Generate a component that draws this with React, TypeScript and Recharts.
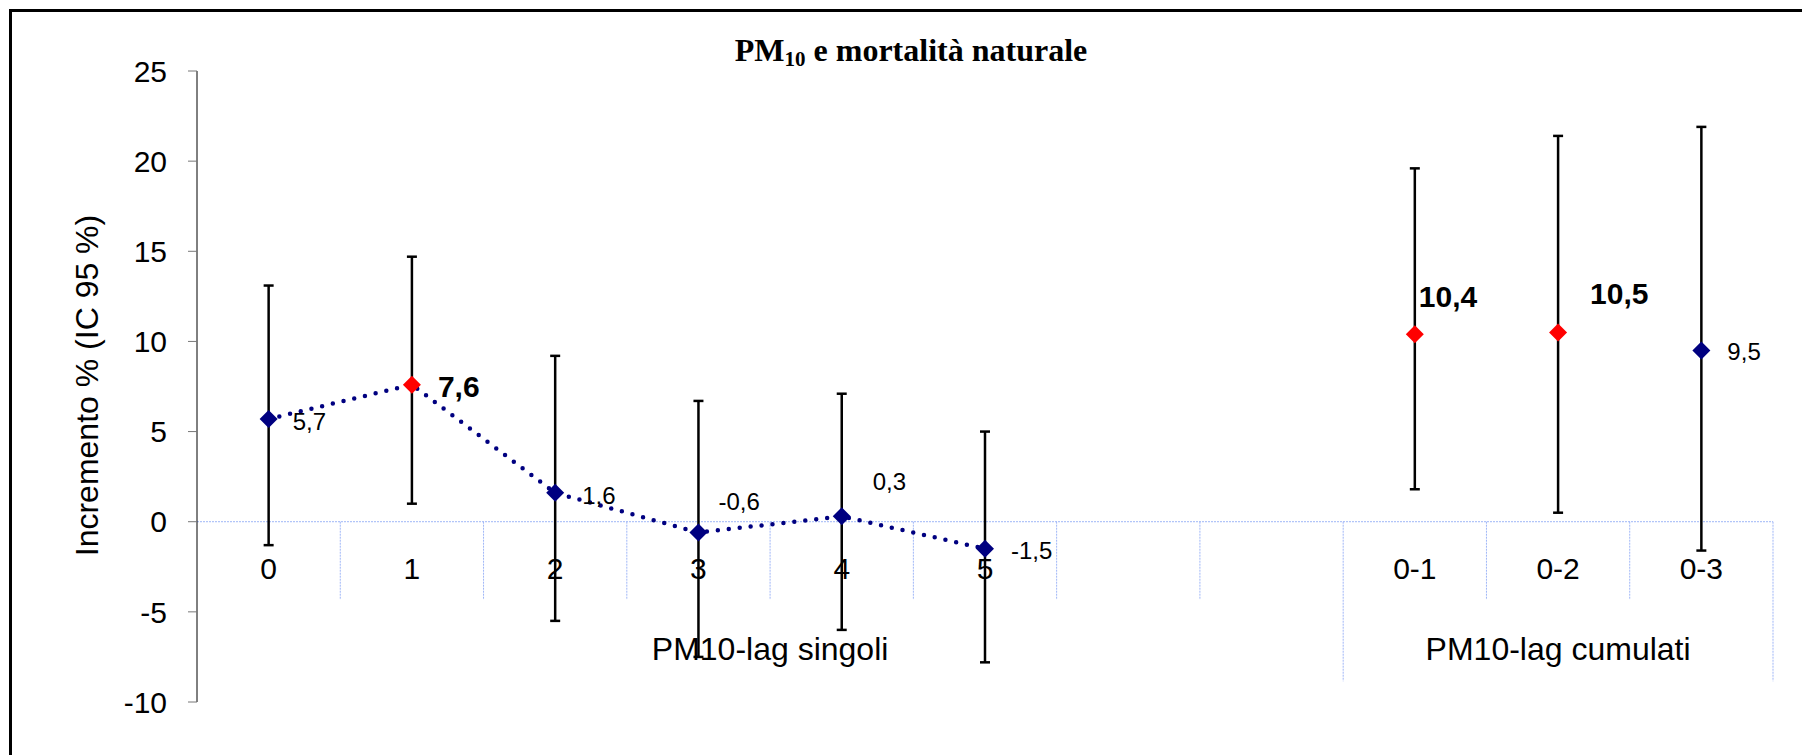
import React from "react";
import { ComposedChart, Line, XAxis, YAxis, ReferenceLine, ErrorBar, LabelList } from "recharts";

const CATEGORIES = ["0", "1", "2", "3", "4", "5", "", "", "0-1", "0-2", "0-3"];

const SINGLE_LAGS = ["0", "1", "2", "3", "4", "5"];
const SINGLE_EST = [5.7, 7.6, 1.6, -0.6, 0.3, -1.5];
const SINGLE_LO = [-1.3, 1.0, -5.5, -7.5, -6.0, -7.8];
const SINGLE_HI = [13.1, 14.7, 9.2, 6.7, 7.1, 5.0];

const CUM_LAGS = ["0-1", "0-2", "0-3"];
const CUM_EST = [10.4, 10.5, 9.5];
const CUM_LO = [1.8, 0.5, -1.6];
const CUM_HI = [19.6, 21.4, 21.9];

const GROUPS = ["PM10-lag singoli", "PM10-lag cumulati"];
const GROUP_FROM = [0, 8];
const GROUP_TO = [8, 11];

const Y_TICKS = [-10, -5, 0, 5, 10, 15, 20, 25];

const NAVY = "#000080";
const RED = "#ff0000";
const GRID = "#9fb6f7";
const FONT = "'Liberation Sans', Arial, sans-serif";

// label placement next to each marker: [dx to text start, dy to text centre]
const LABEL_OFFSET: Record<string, [number, number]> = {
  "0": [24, 2],
  "1": [26, 2],
  "2": [27, 2],
  "3": [20, -31],
  "4": [31, -35],
  "5": [26, 2],
  "0-1": [4, -38],
  "0-2": [32, -39],
  "0-3": [26, 1],
};

const toRows = (lags: string[], est: number[], lo: number[], hi: number[]) =>
  lags.map((lag, i) => ({
    x: CATEGORIES.indexOf(lag) + 0.5,
    lag,
    est: est[i],
    lo: lo[i],
    hi: hi[i],
    err: [est[i] - lo[i], hi[i] - est[i]],
  }));

const singleRows = toRows(SINGLE_LAGS, SINGLE_EST, SINGLE_LO, SINGLE_HI);
const cumRows = toRows(CUM_LAGS, CUM_EST, CUM_LO, CUM_HI);

const catRows = CATEGORIES.map((name, i) => ({ x: i + 0.5, y: 0, name }));
const groupRows = GROUPS.map((name, i) => ({ x: (GROUP_FROM[i] + GROUP_TO[i]) / 2, y: 0, name }));

const groupEdges = new Set([...GROUP_FROM, ...GROUP_TO]);
const dividers = CATEGORIES.map((_, i) => i + 1);

const Diamond = (props: any) => {
  const { cx, cy, payload, index } = props;
  if (cx == null || cy == null) return null;
  const s = 9;
  const fill = payload.lo > 0 ? RED : NAVY;
  return (
    <polygon
      key={`d-${payload.lag}-${index}`}
      points={`${cx},${cy - s} ${cx + s},${cy} ${cx},${cy + s} ${cx - s},${cy}`}
      fill={fill}
    />
  );
};

const ValueLabel = (rows: typeof singleRows) => (props: any) => {
  const { x, y, index } = props;
  const row = rows[index];
  if (!row) return null;
  const sig = row.lo > 0;
  const [dx, dy] = LABEL_OFFSET[row.lag] ?? [26, 0];
  const size = sig ? 30 : 24;
  return (
    <text
      x={x + dx}
      y={y + dy + size * 0.36}
      fontSize={size}
      fontWeight={sig ? "bold" : "normal"}
      fontFamily={FONT}
      fill="#000"
    >
      {row.est.toFixed(1).replace(".", ",")}
    </text>
  );
};

const CatLabel = (props: any) => {
  const { x, y, index } = props;
  return (
    <text x={x} y={y + 57} textAnchor="middle" fontSize={30} fontFamily={FONT} fill="#000">
      {catRows[index].name}
    </text>
  );
};

const GroupLabel = (props: any) => {
  const { x, y, index } = props;
  return (
    <text x={x} y={y + 138} textAnchor="middle" fontSize={32} fontFamily={FONT} fill="#000">
      {groupRows[index].name}
    </text>
  );
};

const YTitle = (props: any) => {
  const { viewBox } = props;
  const cx = viewBox.x + 98;
  const cy = viewBox.y + viewBox.height / 2 - 1;
  return (
    <text
      x={cx}
      y={cy}
      transform={`rotate(-90, ${cx}, ${cy})`}
      textAnchor="middle"
      fontSize={32}
      fontFamily={FONT}
      fill="#000"
    >
      Incremento % (IC 95 %)
    </text>
  );
};

export default function App() {
  return (
    <div style={{ position: "absolute", left: 0, top: 0, width: 1802, height: 755, background: "#fff" }}>
      <div
        style={{
          position: "absolute",
          left: 9,
          top: 9,
          right: 0,
          bottom: 0,
          borderLeft: "3px solid #000",
          borderTop: "3px solid #000",
        }}
      />
      <ComposedChart
        width={1802}
        height={755}
        margin={{ top: 71, right: 29, bottom: 53, left: 0 }}
        style={{ fontFamily: FONT, position: "absolute", left: 0, top: 0 }}
      >
        <XAxis type="number" dataKey="x" domain={[0, 11]} hide />
        <YAxis
          type="number"
          domain={[-10, 25]}
          ticks={Y_TICKS}
          width={197}
          axisLine={{ stroke: "#000", strokeWidth: 1 }}
          tickLine={{ stroke: "#777", strokeWidth: 1 }}
          tickSize={9}
          tickMargin={21}
          tick={{ fontSize: 30, fill: "#000", fontFamily: FONT }}
          label={<YTitle />}
        />
        <ReferenceLine y={0} stroke={GRID} strokeWidth={1} strokeDasharray="2 1" />
        {dividers.map((d) => (
          <ReferenceLine
            key={`div-${d}`}
            segment={[
              { x: d, y: 0 },
              { x: d, y: groupEdges.has(d) ? -8.85 : -4.33 },
            ]}
            stroke={GRID}
            strokeWidth={1}
            strokeDasharray="2 1"
          />
        ))}
        <Line
          data={catRows}
          dataKey="y"
          stroke="none"
          dot={false}
          activeDot={false}
          legendType="none"
          isAnimationActive={false}
        >
          <LabelList dataKey="name" content={<CatLabel />} />
        </Line>
        <Line
          data={groupRows}
          dataKey="y"
          stroke="none"
          dot={false}
          activeDot={false}
          legendType="none"
          isAnimationActive={false}
        >
          <LabelList dataKey="name" content={<GroupLabel />} />
        </Line>
        <Line
          data={singleRows}
          dataKey="est"
          type="linear"
          stroke={NAVY}
          strokeWidth={4.5}
          strokeDasharray="0 11"
          strokeLinecap="round"
          dot={Diamond}
          activeDot={false}
          isAnimationActive={false}
        >
          <ErrorBar dataKey="err" width={5} strokeWidth={2.5} stroke="#000" direction="y" />
          <LabelList dataKey="est" content={ValueLabel(singleRows)} />
        </Line>
        <Line
          data={cumRows}
          dataKey="est"
          type="linear"
          stroke="none"
          dot={Diamond}
          activeDot={false}
          isAnimationActive={false}
        >
          <ErrorBar dataKey="err" width={5} strokeWidth={2.5} stroke="#000" direction="y" />
          <LabelList dataKey="est" content={ValueLabel(cumRows)} />
        </Line>
      </ComposedChart>
      <svg width={1802} height={755} style={{ position: "absolute", left: 0, top: 0, pointerEvents: "none" }}>
        <text
          x={911}
          y={61}
          textAnchor="middle"
          fontFamily="'Liberation Serif', 'Times New Roman', serif"
          fontWeight="bold"
          fontSize={32}
          fill="#000"
        >
          PM
          <tspan fontSize={21} dy={5}>
            10
          </tspan>
          <tspan dy={-5}> e mortalità naturale</tspan>
        </text>
      </svg>
    </div>
  );
}
